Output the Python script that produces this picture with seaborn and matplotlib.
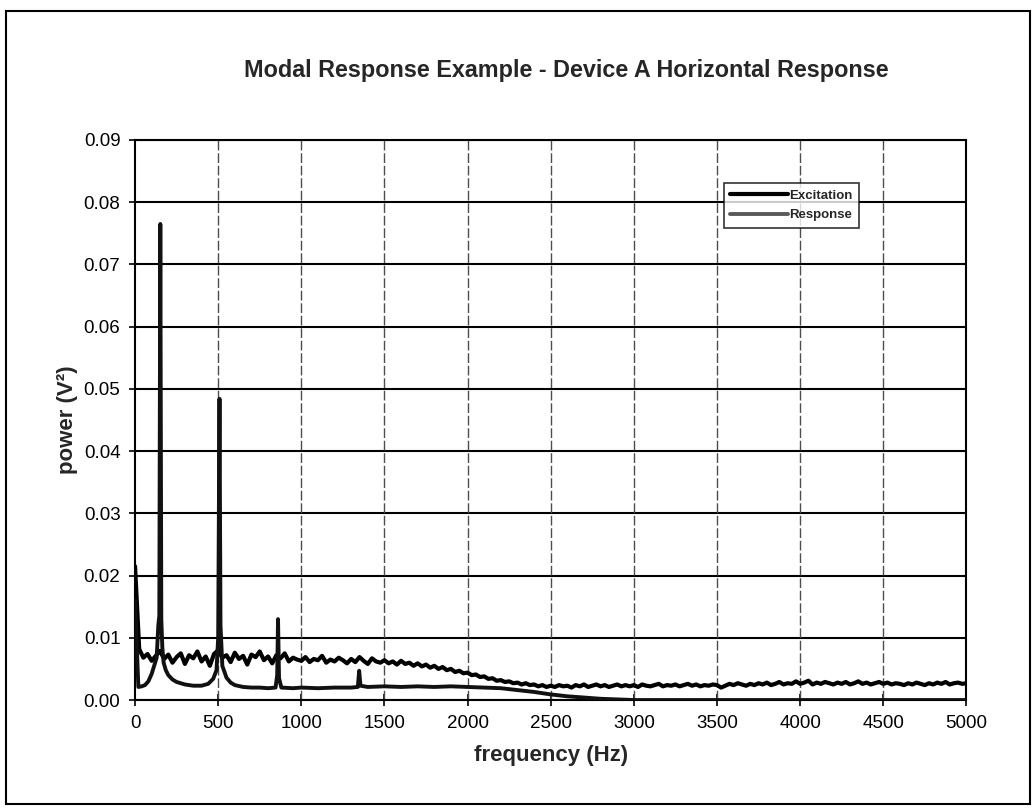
import numpy as np
import pandas as pd
import matplotlib
matplotlib.use("Agg")
import matplotlib.pyplot as plt
import seaborn as sns
from matplotlib.patches import Rectangle

# Excitation spectrum, one value every 25 Hz from 0 to 5000 Hz
exc_freq = np.arange(0, 5001, 25)
exc_power = [
    0.0215, 0.0082, 0.0068, 0.0074, 0.0063, 0.0071, 0.0079, 0.0066, 0.0073, 0.0060,
    0.0069, 0.0075, 0.0058, 0.0072, 0.0067, 0.0078, 0.0062, 0.0070, 0.0055, 0.0074,
    0.0080, 0.0068, 0.0072, 0.0061, 0.0076, 0.0066, 0.0071, 0.0057, 0.0073, 0.0069,
    0.0078, 0.0064, 0.0070, 0.0059, 0.0072, 0.0067, 0.0075, 0.0062, 0.0068, 0.0065,
    0.0063, 0.0069, 0.0061, 0.0066, 0.0064, 0.0071, 0.0060, 0.0065, 0.0062, 0.0068,
    0.0064, 0.0059, 0.0066, 0.0061, 0.0069, 0.0063, 0.0058, 0.0067, 0.0062, 0.0060,
    0.0064, 0.0059, 0.0062, 0.0057, 0.0063, 0.0058, 0.0060, 0.0055, 0.0059, 0.0054,
    0.0057, 0.0052, 0.0055, 0.0050, 0.0053, 0.0048, 0.0050, 0.0045, 0.0047, 0.0043,
    0.0044, 0.0040, 0.0041, 0.0037, 0.0038, 0.0034, 0.0035, 0.0031, 0.0032, 0.0029,
    0.0030, 0.0027, 0.0028, 0.0025, 0.0027, 0.0024, 0.0025, 0.0022, 0.0024, 0.0021,
    0.0023, 0.0021, 0.0024, 0.0022, 0.0023, 0.0020, 0.0024, 0.0022, 0.0025, 0.0021,
    0.0023, 0.0025, 0.0022, 0.0024, 0.0021, 0.0023, 0.0025, 0.0022, 0.0024, 0.0022,
    0.0024, 0.0021, 0.0025, 0.0023, 0.0022, 0.0024, 0.0026, 0.0022, 0.0024, 0.0023,
    0.0025, 0.0022, 0.0024, 0.0026, 0.0023, 0.0025, 0.0022, 0.0024, 0.0023, 0.0025,
    0.0024, 0.0020, 0.0023, 0.0026, 0.0024, 0.0027, 0.0025, 0.0023, 0.0026, 0.0024,
    0.0027, 0.0025, 0.0028, 0.0024, 0.0026, 0.0029, 0.0025, 0.0027, 0.0026, 0.0030,
    0.0026, 0.0028, 0.0031, 0.0025, 0.0028, 0.0026, 0.0029, 0.0027, 0.0025, 0.0028,
    0.0026, 0.0029, 0.0025, 0.0027, 0.0030, 0.0026, 0.0028, 0.0025, 0.0027, 0.0029,
    0.0026, 0.0028, 0.0025, 0.0027, 0.0026, 0.0024, 0.0027, 0.0025, 0.0028, 0.0026,
    0.0024, 0.0027, 0.0025, 0.0028, 0.0026, 0.0029, 0.0025, 0.0027, 0.0028, 0.0026,
    0.0027,
]

# Response spectrum, denser points around the modal peaks
resp_freq = [
    0, 20, 40, 60, 80, 100, 115, 130, 140, 146, 152, 158, 164, 172, 185, 200,
    225, 250, 300, 350, 400, 440, 470, 490, 500, 508, 514, 525, 550, 575, 600,
    650, 700, 750, 800, 845, 855, 860, 866, 880, 950, 1000, 1100, 1200, 1300,
    1340, 1348, 1356, 1400, 1500, 1600, 1700, 1800, 1900, 2000, 2100, 2200,
    2300, 2400, 2500, 2600, 2700, 2800, 2900, 3000, 3500, 4000, 4500, 5000,
]
resp_power = [
    0.0160, 0.0021, 0.0022, 0.0024, 0.0030, 0.0042, 0.0055, 0.0068, 0.0120, 0.0135,
    0.0765, 0.0130, 0.0085, 0.0060, 0.0048, 0.0040,
    0.0033, 0.0029, 0.0025, 0.0023, 0.0023, 0.0026, 0.0034, 0.0048, 0.0100, 0.0484,
    0.0120, 0.0055, 0.0036, 0.0028, 0.0024,
    0.0021, 0.0020, 0.0020, 0.0019, 0.0020, 0.0040, 0.0130, 0.0035, 0.0020,
    0.0019, 0.0020, 0.0019, 0.0020, 0.0020,
    0.0021, 0.0047, 0.0023, 0.0021, 0.0022, 0.0021, 0.0022, 0.0021, 0.0022,
    0.0021, 0.0020, 0.0019,
    0.0016, 0.0013, 0.0009, 0.0006, 0.0004, 0.0002, 0.0001, 0.0000, 0.0000,
    0.0000, 0.0000, 0.0000,
]

x_ticks = [0, 500, 1000, 1500, 2000, 2500, 3000, 3500, 4000, 4500, 5000]
y_ticks = [0.00, 0.01, 0.02, 0.03, 0.04, 0.05, 0.06, 0.07, 0.08, 0.09]

exc_df = pd.DataFrame({"frequency": exc_freq, "power": exc_power})
resp_df = pd.DataFrame({"frequency": resp_freq, "power": resp_power})

sns.set_theme(style="white")
plt.rcParams["font.family"] = ["Liberation Sans", "DejaVu Sans"]

fig = plt.figure(figsize=(10.34, 8.09), dpi=100)
ax = fig.add_axes([0.1306, 0.1347, 0.8040, 0.6923])

# horizontal grid solid, vertical grid dashed like the scanned Excel chart
for yv in y_ticks:
    ax.axhline(yv, color="black", lw=1.5, zorder=1)
for xv in x_ticks[1:-1]:
    ax.axvline(xv, color="0.3", lw=1.0, ls=(0, (7, 2)), zorder=1)

sns.lineplot(data=exc_df, x="frequency", y="power", ax=ax, color="black",
             lw=3.0, estimator=None, sort=False, label="Excitation", zorder=3)
sns.lineplot(data=resp_df, x="frequency", y="power", ax=ax, color="#111111",
             lw=2.8, estimator=None, sort=False, label="Response", zorder=3)

ax.set_xlim(0, 5000)
ax.set_ylim(0, 0.09)
ax.set_xticks(x_ticks)
ax.set_yticks(y_ticks)
ax.set_yticklabels([f"{v:.2f}" for v in y_ticks])
ax.tick_params(axis="both", direction="inout", length=9, width=1.2,
               labelsize=13.5, colors="black", pad=6)
ax.tick_params(axis="both", which="both", bottom=True, left=True)
for side in ["left", "bottom", "top", "right"]:
    ax.spines[side].set_color("black")
    ax.spines[side].set_linewidth(1.5)

ax.set_xlabel("frequency (Hz)", fontsize=16, fontweight="bold", labelpad=10)
ax.set_ylabel("power (V²)", fontsize=16, fontweight="bold", labelpad=4)
fig.text(0.548, 0.913, "Modal Response Example - Device A Horizontal Response",
         ha="center", va="center", fontsize=16.8, fontweight="bold")

leg = ax.legend(loc="upper left", bbox_to_anchor=(0.700, 0.935), fontsize=9.5,
                frameon=True, fancybox=False, handlelength=4.4, borderpad=0.5,
                labelspacing=0.55, handletextpad=0.05)
leg.get_frame().set_edgecolor("black")
leg.get_frame().set_linewidth(1.2)
for t in leg.get_texts():
    t.set_fontweight("bold")
leg.get_lines()[1].set_color("0.35")

# outer chart border
fig.patches.append(Rectangle((0.006, 0.006), 0.990, 0.981, transform=fig.transFigure,
                             fill=False, edgecolor="black", lw=1.5))

fig.savefig("out.png", dpi=100)
